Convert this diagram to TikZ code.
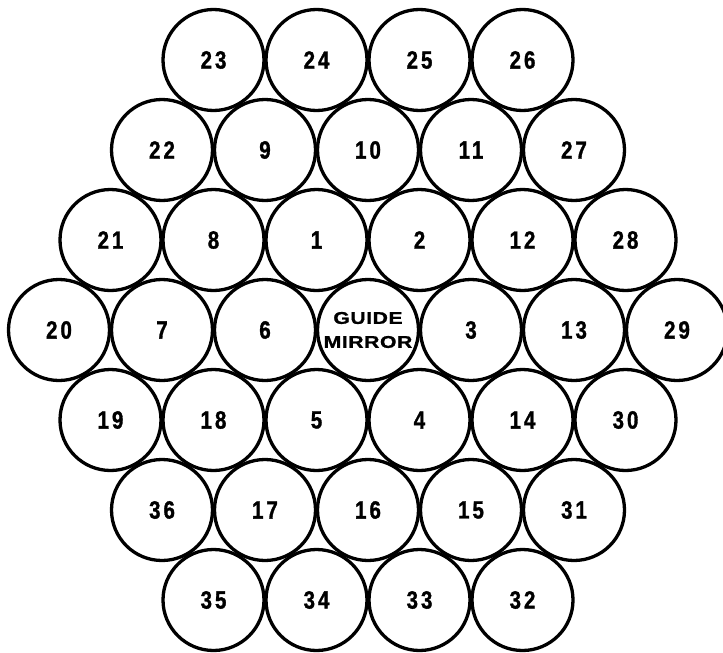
\documentclass[tikz,border=0pt]{standalone}
\usepackage{fontspec}
\newfontfamily\lbl[FakeStretch=0.82,LetterSpace=12,FakeBold=1.2]{Liberation Sans}
\newfontfamily\gmfont[FakeStretch=1.25,LetterSpace=3,FakeBold=1]{Liberation Sans}
\begin{document}
\begin{tikzpicture}[x=1pt,y=-1pt,
  cell/.style={circle,draw,line width=3.3pt,minimum size=101pt,inner sep=0pt,
    font=\lbl\bfseries\fontsize{25}{25}\selectfont},
  gmcell/.style={cell,align=center,font=\gmfont\bfseries\fontsize{17}{24}\selectfont}]
\useasboundingbox (0,0) rectangle (723,653);
\foreach \lab [count=\i from 0] in {23,24,25,26}
  \node[cell] (c\lab) at (213.5+103*\i,60) {\lab};
\foreach \lab [count=\i from 0] in {22,9,10,11,27}
  \node[cell] (c\lab) at (162+103*\i,150) {\lab};
\foreach \lab [count=\i from 0] in {21,8,1,2,12,28}
  \node[cell] (c\lab) at (110.5+103*\i,240) {\lab};
\foreach \lab [count=\i from 0] in {20,7,6}
  \node[cell] (c\lab) at (59+103*\i,330) {\lab};
\node[gmcell] (cgm) at (368,330) {GUIDE\\MIRROR};
\foreach \lab [count=\i from 0] in {3,13,29}
  \node[cell] (c\lab) at (471+103*\i,330) {\lab};
\foreach \lab [count=\i from 0] in {19,18,5,4,14,30}
  \node[cell] (c\lab) at (110.5+103*\i,420) {\lab};
\foreach \lab [count=\i from 0] in {36,17,16,15,31}
  \node[cell] (c\lab) at (162+103*\i,510) {\lab};
\foreach \lab [count=\i from 0] in {35,34,33,32}
  \node[cell] (c\lab) at (213.5+103*\i,600) {\lab};
\end{tikzpicture}
\end{document}
